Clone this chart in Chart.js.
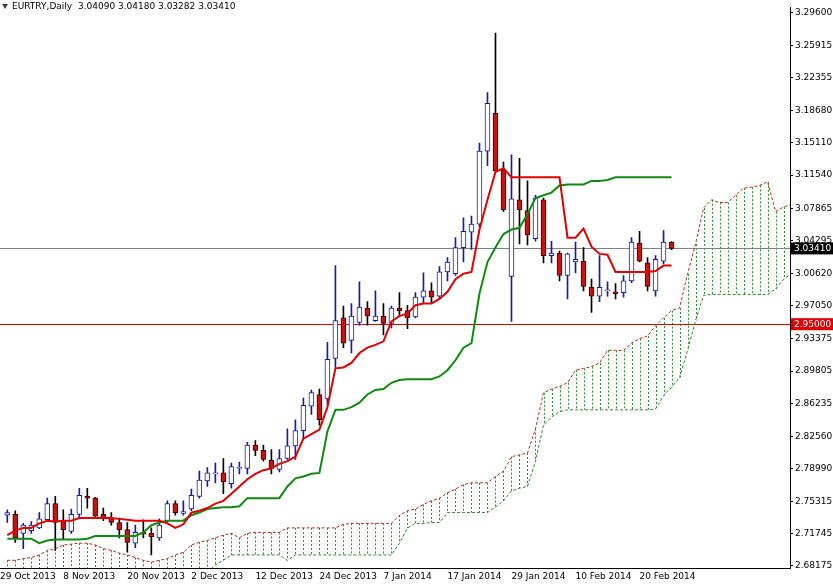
<!DOCTYPE html>
<html>
<head>
<meta charset="utf-8">
<script src="https://cdn.jsdelivr.net/npm/chart.js@4.4.1/dist/chart.umd.min.js"></script>
<style>
  html, body { margin: 0; padding: 0; background: #fff; }
  #wrap { width: 833px; height: 584px; }
</style>
</head>
<body>
<div id="wrap"><canvas id="chart" width="833" height="584"></canvas></div>
<script>
/* EURTRY daily with Ichimoku */

const OPEN  = [2.738,2.739,2.718,2.721,2.724,2.733,2.751,2.732,2.720,2.739,2.759,2.757,2.739,2.735,2.730,2.722,2.707,2.719,2.718,2.713,
  2.732,2.751,2.740,2.745,2.759,2.776,2.784,2.785,2.773,2.790,2.790,2.816,2.810,2.799,2.789,2.801,2.815,2.832,2.859,2.872,
  2.867,2.912,2.957,2.932,2.952,2.968,2.954,2.959,2.951,2.968,2.965,2.958,2.980,2.987,2.981,3.008,3.006,3.035,3.052,3.061,
  3.142,3.184,3.121,3.003,3.088,3.076,3.045,3.088,3.026,3.029,3.004,3.019,3.020,2.991,2.981,2.987,2.986,2.985,2.998,3.040,
  3.018,2.987,3.020,3.0409];
const HIGH  = [2.744,2.743,2.729,2.731,2.741,2.757,2.759,2.744,2.745,2.768,2.768,2.758,2.746,2.741,2.735,2.730,2.727,2.733,2.724,2.734,
  2.754,2.754,2.754,2.767,2.787,2.791,2.796,2.801,2.796,2.797,2.819,2.821,2.816,2.811,2.811,2.834,2.844,2.868,2.877,2.878,
  2.930,3.015,2.970,2.973,2.997,2.975,2.987,2.973,2.970,2.985,2.971,2.985,3.007,2.996,3.014,3.024,3.046,3.068,3.070,3.151,
  3.207,3.273,3.130,3.138,3.134,3.109,3.093,3.090,3.042,3.031,3.029,3.041,3.035,3.000,3.026,2.997,2.995,3.004,3.046,3.053,
  3.024,3.026,3.054,3.0418];
const LOW   = [2.730,2.708,2.701,2.718,2.723,2.732,2.699,2.712,2.718,2.735,2.746,2.735,2.732,2.727,2.713,2.697,2.702,2.713,2.694,2.710,
  2.730,2.738,2.738,2.743,2.757,2.770,2.774,2.762,2.768,2.784,2.784,2.804,2.798,2.784,2.786,2.800,2.800,2.823,2.850,2.838,
  2.861,2.902,2.924,2.918,2.949,2.949,2.953,2.938,2.946,2.959,2.945,2.957,2.974,2.974,2.978,2.998,3.004,3.019,3.033,3.058,
  3.126,3.119,3.075,2.953,3.039,3.038,3.042,3.018,3.018,2.998,2.978,3.007,2.987,2.963,2.975,2.981,2.978,2.980,2.996,3.019,
  2.987,2.981,3.017,3.0328];
const CLOSE = [2.741,2.713,2.727,2.727,2.734,2.751,2.730,2.722,2.739,2.760,2.757,2.737,2.735,2.730,2.722,2.708,2.719,2.717,2.714,2.727,
  2.751,2.741,2.742,2.760,2.777,2.785,2.785,2.775,2.792,2.791,2.816,2.810,2.800,2.790,2.801,2.815,2.832,2.860,2.874,2.844,
  2.911,2.954,2.929,2.959,2.969,2.959,2.959,2.951,2.968,2.965,2.957,2.980,2.987,2.980,3.008,3.019,3.035,3.053,3.061,3.142,
  3.195,3.120,3.077,3.089,3.077,3.049,3.090,3.026,3.029,3.004,3.028,3.022,2.992,2.981,2.991,2.988,2.984,2.998,3.041,3.020,
  2.992,3.022,3.041,3.0341];

const TENKAN = [2.716,2.721,2.724,2.724,2.729,2.732,2.731,2.732,2.732,2.735,2.735,2.735,2.735,2.735,2.734,2.733,2.732,2.732,2.732,2.732,
  2.729,2.724,2.728,2.741,2.743,2.746,2.751,2.754,2.762,2.770,2.778,2.784,2.788,2.790,2.795,2.798,2.803,2.823,2.828,2.833,
  2.858,2.901,2.902,2.907,2.918,2.924,2.927,2.931,2.953,2.959,2.962,2.971,2.973,2.973,2.978,2.986,3.000,3.006,3.008,3.055,
  3.088,3.119,3.123,3.113,3.113,3.113,3.113,3.113,3.113,3.113,3.046,3.046,3.056,3.036,3.028,3.027,3.008,3.008,3.008,3.008,
  3.008,3.009,3.015,3.015];
const KIJUN = [2.712,2.712,2.712,2.712,2.707,2.710,2.711,2.711,2.711,2.711,2.712,2.715,2.715,2.715,2.715,2.715,2.715,2.719,2.727,2.730,
  2.732,2.732,2.732,2.738,2.741,2.745,2.746,2.747,2.747,2.748,2.757,2.757,2.757,2.757,2.757,2.770,2.779,2.781,2.784,2.785,
  2.831,2.855,2.855,2.858,2.863,2.872,2.877,2.878,2.885,2.888,2.889,2.889,2.889,2.889,2.892,2.899,2.910,2.924,2.929,2.984,
  3.019,3.035,3.050,3.055,3.057,3.072,3.090,3.093,3.096,3.104,3.105,3.105,3.105,3.109,3.109,3.110,3.113,3.113,3.113,3.113,
  3.113,3.113,3.113,3.113];
const SPAN_A = [2.688,2.688,2.690,2.691,2.694,2.699,2.701,2.705,2.706,2.707,2.707,2.705,2.701,2.699,2.696,2.694,2.691,2.688,2.686,2.688,
  2.690,2.694,2.697,2.705,2.708,2.710,2.713,2.716,2.718,2.713,2.718,2.719,2.719,2.719,2.719,2.724,2.724,2.724,2.724,2.724,
  2.724,2.724,2.728,2.729,2.729,2.729,2.729,2.729,2.729,2.738,2.743,2.745,2.750,2.754,2.757,2.763,2.767,2.772,2.774,2.774,
  2.774,2.781,2.787,2.803,2.805,2.807,2.834,2.874,2.878,2.881,2.885,2.899,2.901,2.903,2.907,2.921,2.921,2.921,2.929,2.934,
  2.937,2.948,2.957,2.965,2.968,3.006,3.039,3.079,3.088,3.085,3.085,3.093,3.101,3.102,3.104,3.108,3.075,3.080,3.083];
const SPAN_B = [2.675,2.675,2.675,2.675,2.675,2.675,2.675,2.675,2.675,2.675,2.675,2.675,2.675,2.675,2.675,2.675,2.675,2.675,2.675,2.675,
  2.675,2.675,2.675,2.675,2.675,2.675,2.683,2.688,2.694,2.694,2.694,2.694,2.694,2.694,2.694,2.688,2.694,2.694,2.694,2.694,
  2.694,2.694,2.694,2.694,2.694,2.694,2.694,2.694,2.694,2.707,2.724,2.729,2.729,2.730,2.730,2.741,2.741,2.741,2.741,2.741,
  2.741,2.747,2.754,2.765,2.768,2.770,2.798,2.838,2.847,2.853,2.855,2.855,2.855,2.855,2.855,2.855,2.855,2.855,2.855,2.855,
  2.855,2.856,2.871,2.880,2.891,2.921,2.954,2.982,2.983,2.983,2.983,2.983,2.983,2.983,2.983,2.983,2.989,3.000,3.006];

const Y_TICKS = [3.29600,3.25915,3.22355,3.18680,3.15110,3.11540,3.07865,3.04295,3.00620,2.97050,2.93375,2.89805,2.86235,2.82560,2.78990,2.75315,2.71745,2.68175];
const DATE_LABELS = ['29 Oct 2013','8 Nov 2013','20 Nov 2013','2 Dec 2013','12 Dec 2013','24 Dec 2013','7 Jan 2014','17 Jan 2014','29 Jan 2014','10 Feb 2014','20 Feb 2014'];
const DATE_INDEX  = [-0.9,7,15,23,31,39,47,55,63,71,79];
const LAST_PRICE = 3.03410;
const LEVEL = 2.95000;
const TITLE = 'EURTRY,Daily  3.04090 3.04180 3.03282 3.03410';

const FONT = "'DejaVu Sans', sans-serif";
const BLUE = '#1a1aa0';
const RED = '#cc1111';

const idx = OPEN.map((_, i) => i);
const isUp = idx.map(i => CLOSE[i] >= OPEN[i]);

const hatchPlugin = {
    id: 'hatch',
    beforeDatasetsDraw(chart) {
        const { ctx, chartArea, scales } = chart;
        ctx.save();
        ctx.beginPath();
        ctx.rect(chartArea.left, chartArea.top, chartArea.right - chartArea.left, chartArea.bottom - chartArea.top);
        ctx.clip();
        ctx.strokeStyle = '#2e8b2e';
        ctx.lineWidth = 1;
        ctx.setLineDash([2, 2]);
        SPAN_A.forEach((a, i) => {
            const x = Math.round(scales.x.getPixelForValue(i)) + 0.5;
            ctx.beginPath();
            ctx.moveTo(x, scales.y.getPixelForValue(a));
            ctx.lineTo(x, scales.y.getPixelForValue(SPAN_B[i]));
            ctx.stroke();
        });
        ctx.setLineDash([]);
        // price lines
        [[LAST_PRICE, '#808080'], [LEVEL, '#dd0000']].forEach(([p, c]) => {
            const y = Math.round(scales.y.getPixelForValue(p)) + 0.5;
            ctx.strokeStyle = c;
            ctx.beginPath();
            ctx.moveTo(chartArea.left, y);
            ctx.lineTo(chartArea.right, y);
            ctx.stroke();
        });
        ctx.restore();
    },
    afterDraw(chart) {
        const { ctx, chartArea, scales } = chart;
        ctx.save();
        ctx.font = '9px ' + FONT;
        ctx.textBaseline = 'middle';
        // axis labels for price lines
        [[LAST_PRICE, '#000000'], [LEVEL, '#dd0000']].forEach(([p, c]) => {
            const y = scales.y.getPixelForValue(p);
            ctx.fillStyle = c;
            ctx.fillRect(chartArea.right + 1, y - 6, 42, 12);
            ctx.fillStyle = '#fff';
            ctx.fillText(p.toFixed(5), chartArea.right + 4, y);
        });
        // date labels
        ctx.fillStyle = '#000';
        ctx.textAlign = 'left';
        DATE_LABELS.forEach((t, k) => {
            const x = scales.x.getPixelForValue(DATE_INDEX[k]);
            ctx.fillText(t, Math.max(0, x), chartArea.bottom + 9);
        });
        // title
        ctx.fillStyle = '#404040';
        ctx.beginPath();
        ctx.moveTo(2, 4); ctx.lineTo(8, 4); ctx.lineTo(5, 9); ctx.closePath();
        ctx.fill();
        ctx.fillStyle = '#000';
        ctx.fillText(TITLE, 12, 7);
        ctx.restore();
    }
};

new Chart(document.getElementById('chart'), {
    type: 'bar',
    data: {
        datasets: [
            {
                type: 'line', label: 'Tenkan', order: 1,
                data: TENKAN.map((v, i) => ({ x: i, y: v })),
                borderColor: '#e00000', borderWidth: 2, pointRadius: 0, tension: 0,
            },
            {
                type: 'line', label: 'Kijun', order: 2,
                data: KIJUN.map((v, i) => ({ x: i, y: v })),
                borderColor: '#118811', borderWidth: 2, pointRadius: 0, tension: 0,
            },
            {
                type: 'line', label: 'Span A', order: 3,
                data: SPAN_A.map((v, i) => ({ x: i, y: v })),
                borderColor: '#b03020', borderWidth: 1, borderDash: [3, 2], pointRadius: 0, tension: 0,
            },
            {
                type: 'line', label: 'Span B', order: 4,
                data: SPAN_B.map((v, i) => ({ x: i, y: v })),
                borderColor: '#2e8b2e', borderWidth: 1, borderDash: [3, 2], pointRadius: 0, tension: 0,
            },
            {
                label: 'Bodies', order: 5,
                data: idx.map(i => ({ x: i, y: [OPEN[i], CLOSE[i]] })),
                backgroundColor: idx.map(i => isUp[i] ? '#ffffff' : RED),
                borderColor: idx.map(i => isUp[i] ? BLUE : '#3a0000'),
                borderWidth: 1, borderSkipped: false, barThickness: 5, grouped: false,
                minBarLength: 1,
            },
            {
                label: 'Wicks', order: 6,
                data: idx.map(i => ({ x: i, y: [LOW[i], HIGH[i]] })),
                backgroundColor: idx.map(i => isUp[i] ? BLUE : '#000000'),
                borderWidth: 0, barThickness: 1, grouped: false,
            },
        ]
    },
    options: {
        responsive: false,
        animation: false,
        events: [],
        layout: { padding: 0 },
        plugins: { legend: { display: false }, tooltip: { enabled: false } },
        scales: {
            x: {
                type: 'linear', min: -0.91, max: 97.8, offset: false,
                ticks: { display: false },
                grid: { display: false },
                border: { display: true, color: '#000' },
                afterFit: s => { s.height = 16; },
            },
            y: {
                position: 'right', min: 2.6795, max: 3.3015,
                afterBuildTicks: s => { s.ticks = Y_TICKS.map(v => ({ value: v })); },
                ticks: {
                    callback: v => v.toFixed(5),
                    font: { family: FONT, size: 9 }, color: '#000', padding: 2,
                },
                grid: { drawOnChartArea: false, drawTicks: true, tickLength: 3, color: '#000' },
                border: { display: true, color: '#000' },
                afterFit: s => { s.width = 43; },
            }
        }
    },
    plugins: [hatchPlugin]
});
</script>
</body>
</html>
